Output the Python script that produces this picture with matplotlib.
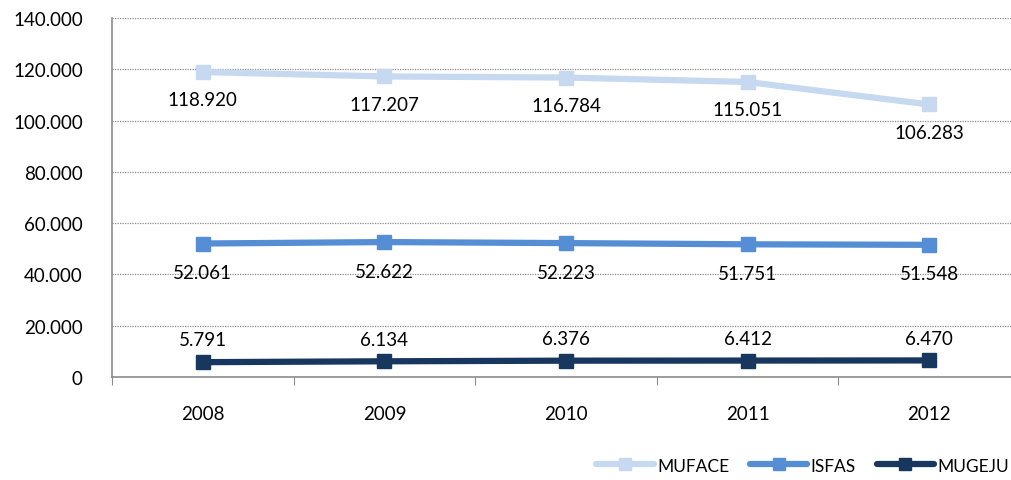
import matplotlib.pyplot as plt
from matplotlib.ticker import FuncFormatter

plt.rcParams['font.family'] = ['Lato', 'DejaVu Sans']

# Data
years = ['2008', '2009', '2010', '2011', '2012']
muface = [118920, 117207, 116784, 115051, 106283]
isfas = [52061, 52622, 52223, 51751, 51548]
mugeju = [5791, 6134, 6376, 6412, 6470]

series = [
    ('MUFACE', muface, '#C6D9F1', -20),
    ('ISFAS', isfas, '#558ED5', -21),
    ('MUGEJU', mugeju, '#17375E', 16),
]


def fmt(v):
    return f'{v:,.0f}'.replace(',', '.')


fig = plt.figure(figsize=(10.11, 4.81), dpi=100)
ax = fig.add_axes([0.1108, 0.2141, 0.898, 0.7464])

x = list(range(len(years)))
for name, vals, color, off in series:
    ax.plot(x, vals, color=color, lw=4.5, marker='s', ms=10,
            label=name, solid_capstyle='round', zorder=3)
    for xi, v in zip(x, vals):
        ax.annotate(fmt(v), (xi, v), xytext=(0, off), textcoords='offset points',
                    ha='center', va='center', fontsize=13.5, color='black')

ax.set_xlim(-0.5, 4.5)
ax.set_ylim(0, 140000)
ax.set_yticks(range(0, 140001, 20000))
ax.yaxis.set_major_formatter(FuncFormatter(lambda v, p: fmt(v)))
ax.tick_params(axis='y', length=0, labelsize=13.5, pad=21)
ax.grid(axis='y', linestyle=(0, (1, 1)), color='#8c8c8c', lw=0.9)
ax.set_axisbelow(True)

# category boundaries as major ticks, labels in between
ax.set_xticks([i - 0.5 for i in range(len(years) + 1)])
ax.set_xticklabels([])
ax.set_xticks(x, minor=True)
ax.set_xticklabels(years, minor=True)
ax.tick_params(axis='x', which='major', length=6, color='#8c8c8c', direction='out')
ax.tick_params(axis='x', which='minor', length=0, labelsize=13.5, pad=20)

for s in ['top', 'right']:
    ax.spines[s].set_visible(False)
for s in ['left', 'bottom']:
    ax.spines[s].set_color('#8c8c8c')
    ax.spines[s].set_linewidth(1.2)

fig.legend(loc='center left', bbox_to_anchor=(0.583, 0.03), ncol=3, frameon=False,
           fontsize=12.5, handlelength=3.3, handletextpad=0.2, columnspacing=1.2,
           markerscale=0.9, borderaxespad=0)

fig.savefig('out.png', dpi=100)
